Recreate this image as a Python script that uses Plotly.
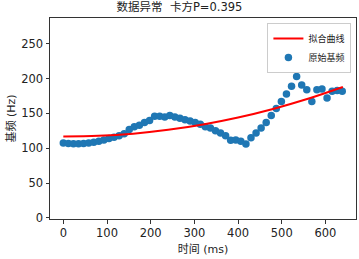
import plotly.graph_objects as go

# time (ms) of each pitch frame
time_ms = [round(11.61 * i, 1) for i in range(56)]
# raw F0 values (Hz)
f0_raw = [107.5, 107, 106.5, 106.5, 107, 107.5, 108.5, 110, 112, 114,
          116, 118, 121, 127, 131, 133, 137, 140, 146, 146,
          145, 147, 145, 143, 141, 139, 137, 134.5, 131, 129,
          125, 122, 118, 111.5, 112, 110, 106, 115, 122, 129,
          137, 147, 157, 167, 178, 189, 203, 191, 184, 167,
          184, 185, 172, 182, 183, 182]
# fitted curve samples
fit_t = [0, 80, 160, 240, 320, 400, 480, 560, 640]
fit_v = [117, 117.9, 121.0, 126.5, 134.2, 144.2, 156.5, 171.1, 188]

FONT = "DejaVu Sans, Noto Sans CJK SC, sans-serif"

fig = go.Figure()
fig.add_trace(go.Scatter(x=time_ms, y=f0_raw, mode="markers", name="原始基频",
                         marker=dict(color="#1f77b4", size=7.5, line=dict(width=0))))
fig.add_trace(go.Scatter(x=fit_t, y=fit_v, mode="lines", name="拟合曲线",
                         line=dict(color="#ff0000", width=2, shape="spline")))

axis_common = dict(showgrid=False, zeroline=False, showline=True, linecolor="#333333",
                   linewidth=1, mirror=True, ticks="outside", ticklen=3.5,
                   tickcolor="#333333", tickfont=dict(size=11.5, color="#222222", family=FONT))
fig.update_xaxes(range=[-30.5, 670], tickvals=[0, 100, 200, 300, 400, 500, 600],
                 title=dict(text="时间 (ms)", font=dict(size=11, family=FONT, color="#222222"), standoff=6),
                 **axis_common)
fig.update_yaxes(range=[-1.5, 287], tickvals=[0, 50, 100, 150, 200, 250],
                 title=dict(text="基频 (Hz)", font=dict(size=11, family=FONT, color="#222222"), standoff=3),
                 **axis_common)

fig.update_layout(
    width=359, height=259,
    margin=dict(l=50, r=3, t=18, b=40),
    paper_bgcolor="white", plot_bgcolor="white",
    title=dict(text="数据异常  卡方P=0.395", x=0.5, xanchor="center", y=0.99, yanchor="top",
               font=dict(size=11.5, family=FONT, color="#222222")),
    legend=dict(x=0.985, y=0.975, xanchor="right", yanchor="top",
                bordercolor="#cccccc", borderwidth=1, bgcolor="rgba(255,255,255,0.8)",
                font=dict(size=9, family=FONT, color="#222222"),
                traceorder="reversed", itemwidth=30, tracegroupgap=0),
    showlegend=True,
)

fig.write_html("out.html", config={"displayModeBar": False},
               post_script="document.body.style.margin='0';document.body.style.overflow='hidden';")
